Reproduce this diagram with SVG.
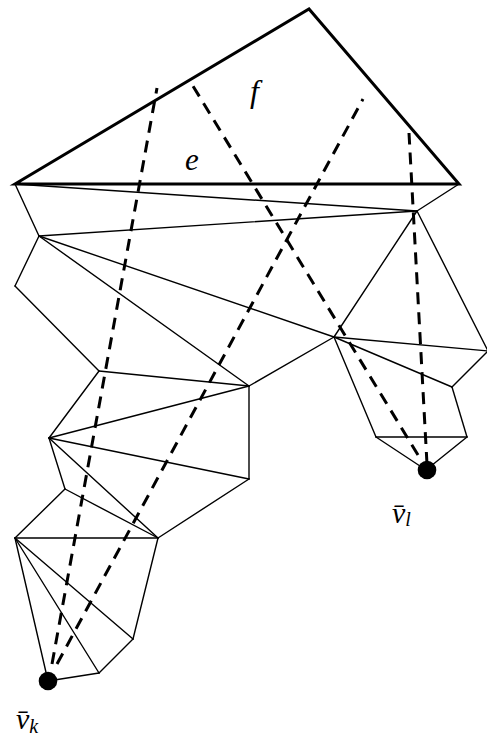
<svg xmlns="http://www.w3.org/2000/svg" width="487" height="739" viewBox="0 0 487 739">
<style>
.e{stroke:#000;stroke-width:1.4;fill:none;stroke-linecap:round;stroke-linejoin:round}
.t{stroke:#000;stroke-width:3;fill:none;stroke-linejoin:miter}
.d{stroke:#000;stroke-width:3;fill:none;stroke-dasharray:12 8}
.lbl{font-family:"Liberation Serif",serif;font-style:italic;fill:#000}
</style>
<rect width="487" height="739" fill="#fff"/>
<g id="mesh" class="e">
<line x1="15" y1="184" x2="417" y2="211"/>
<line x1="459" y1="184" x2="417" y2="211"/>
<line x1="15" y1="184" x2="39" y2="236"/>
<line x1="39" y1="236" x2="417" y2="211"/>
<line x1="39" y1="236" x2="15" y2="286"/>
<line x1="15" y1="286" x2="99" y2="371"/>
<line x1="39" y1="236" x2="334" y2="337"/>
<line x1="39" y1="236" x2="249" y2="386"/>
<line x1="417" y1="211" x2="334" y2="337"/>
<line x1="417" y1="211" x2="488" y2="351"/>
<line x1="334" y1="337" x2="488" y2="351"/>
<line x1="488" y1="351" x2="452" y2="387"/>
<line x1="334" y1="337" x2="452" y2="387"/>
<line x1="334" y1="337" x2="376" y2="437"/>
<line x1="452" y1="387" x2="467" y2="437"/>
<line x1="376" y1="437" x2="467" y2="437"/>
<line x1="376" y1="437" x2="426" y2="470"/>
<line x1="467" y1="437" x2="426" y2="470"/>
<line x1="334" y1="337" x2="249" y2="386"/>
<line x1="99" y1="371" x2="249" y2="386"/>
<line x1="99" y1="371" x2="49" y2="438"/>
<line x1="49" y1="438" x2="249" y2="386"/>
<line x1="49" y1="438" x2="249" y2="479"/>
<line x1="249" y1="386" x2="249" y2="479"/>
<line x1="49" y1="438" x2="65" y2="489"/>
<line x1="49" y1="438" x2="158" y2="538"/>
<line x1="65" y1="489" x2="158" y2="538"/>
<line x1="65" y1="489" x2="15" y2="538"/>
<line x1="15" y1="538" x2="158" y2="538"/>
<line x1="249" y1="479" x2="158" y2="538"/>
<line x1="15" y1="538" x2="48" y2="681"/>
<line x1="15" y1="538" x2="99" y2="673"/>
<line x1="15" y1="538" x2="133" y2="639"/>
<line x1="158" y1="538" x2="133" y2="639"/>
<line x1="133" y1="639" x2="99" y2="673"/>
<line x1="99" y1="673" x2="48" y2="681"/>
</g>
<g id="face-f">
<polygon class="t" points="15,184 309,9 459,184"/>
</g>
<g id="connectors">
<path class="d" d="M52,664 L157,88"/>
<path class="d" d="M57,664 L363,99"/>
<path class="d" d="M418,455 L193,86"/>
<path class="d" d="M427,464 L409,133"/>
</g>
<g id="node-vk">
<circle cx="48" cy="681" r="9.3" fill="#000"/>
<text class="lbl" x="16" y="729" font-size="30">v̄<tspan font-size="20" dy="4">k</tspan></text>
</g>
<g id="node-vl">
<circle cx="427" cy="470" r="9.3" fill="#000"/>
<text class="lbl" x="392" y="523" font-size="30">v̄<tspan font-size="20" dy="3">l</tspan></text>
</g>
<g id="labels">
<text class="lbl" x="185" y="170" font-size="31">e</text>
<text class="lbl" x="250" y="102" font-size="32">f</text>
</g>
</svg>
